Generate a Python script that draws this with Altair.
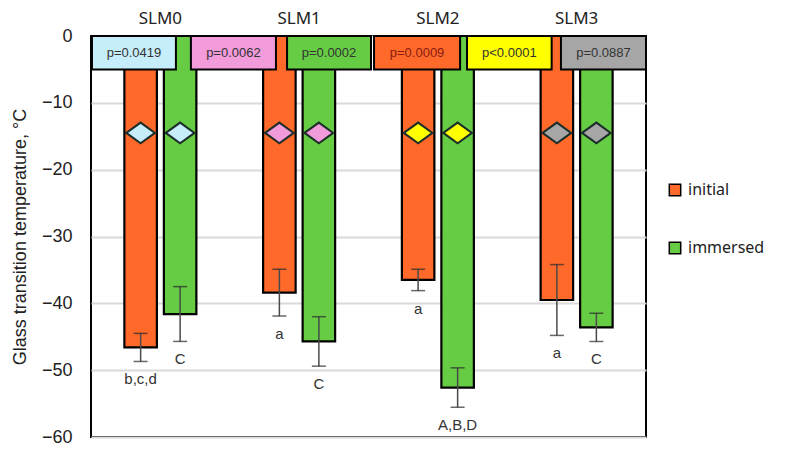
import altair as alt
import pandas as pd

# Glass transition temperature per sample, initial vs immersed
groups = ["SLM0", "SLM1", "SLM2", "SLM3"]
conditions = ["initial", "immersed"]
initial_mean = [-46.6, -38.4, -36.5, -39.5]
initial_sd = [2.1, 3.5, 1.6, 5.3]
immersed_mean = [-41.6, -45.7, -52.6, -43.6]
immersed_sd = [4.1, 3.7, 2.95, 2.1]
initial_letters = ["b,c,d", "a", "a", "a"]
immersed_letters = ["C", "C", "A,B,D", "C"]

# Group marker (diamond) colour and level
marker_colors = ["#C6EEFA", "#F29BDB", "#FFFF00", "#A6A6A6"]
marker_level = -14.5

# Pairwise p-value boxes along the top (span in group units)
p_labels = ["p=0.0419", "p=0.0062", "p=0.0002", "p=0.0009", "p<0.0001", "p=0.0887"]
p_fill = ["#C6EEFA", "#F29BDB", "#66CC44", "#FF6A2A", "#FFFF00", "#A6A6A6"]
p_text = ["#333333", "#333333", "#333333", "#8B1A10", "#333333", "#333333"]
p_start = [0.007, 0.72, 1.413, 2.04, 2.71, 3.387]
p_end = [0.612, 1.333, 2.018, 2.66, 3.32, 4.0]
p_top, p_bottom = 0, -5

bar_colors = ["#FF6A2A", "#66CC44"]

rows = []
for i, g in enumerate(groups):
    rows.append(dict(group=g, condition="initial", mean=initial_mean[i], sd=initial_sd[i],
                     letter=initial_letters[i], marker=marker_colors[i], level=marker_level))
    rows.append(dict(group=g, condition="immersed", mean=immersed_mean[i], sd=immersed_sd[i],
                     letter=immersed_letters[i], marker=marker_colors[i], level=marker_level))
df = pd.DataFrame(rows)

boxes = pd.DataFrame(dict(label=p_labels, fill=p_fill, tcolor=p_text,
                          start=p_start, end=p_end, top=p_top, bottom=p_bottom))

y_scale = alt.Scale(domain=[-60, 0], nice=False)
x_enc = alt.X("group:N", sort=groups,
              scale=alt.Scale(paddingInner=0, paddingOuter=0),
              axis=alt.Axis(orient="top", title=None, domain=False, ticks=False,
                            labelAngle=0, labelFontSize=17, labelFont="Noto Sans",
                            labelColor="#222222", labelPadding=9))
xo_enc = alt.XOffset("condition:N", sort=conditions,
                     scale=alt.Scale(paddingInner=0.177, paddingOuter=0.845))

base = alt.Chart(df).encode(x=x_enc, xOffset=xo_enc)

bars = base.mark_bar(stroke="black", strokeWidth=2.2).encode(
    y=alt.Y("mean:Q", scale=y_scale,
            axis=alt.Axis(values=[0, -10, -20, -30, -40, -50, -60], domain=False, ticks=False,
                          grid=True, gridColor="#d9d9d9", gridWidth=2,
                          labelFontSize=18, labelFont="Liberation Sans", labelColor="#222222",
                          labelPadding=19, title="Glass transition temperature, °C",
                          titleFontSize=18, titleFont="Liberation Sans", titleFontWeight="normal",
                          titleColor="#222222", titlePadding=12)),
    y2=alt.datum(0),
    color=alt.Color("condition:N",
                    scale=alt.Scale(domain=conditions, range=bar_colors),
                    legend=alt.Legend(title=None, orient="none", legendX=576, legendY=146,
                                      symbolType="square", symbolSize=130,
                                      symbolStrokeColor="black", symbolStrokeWidth=1.5,
                                      labelFontSize=16, labelFont="Noto Sans", labelColor="#222222",
                                      rowPadding=40, padding=0, labelOffset=5)),
)

whiskers = base.transform_calculate(
    lo="datum.mean - datum.sd", hi="datum.mean + datum.sd"
).mark_rule(color="#4a4a4a", strokeWidth=1.5).encode(
    y=alt.Y("lo:Q", scale=y_scale), y2="hi:Q")

caps_lo = base.transform_calculate(lo="datum.mean - datum.sd").mark_tick(
    color="#2a2a2a", thickness=1.5, size=14, orient="horizontal").encode(
    y=alt.Y("lo:Q", scale=y_scale))
caps_hi = base.transform_calculate(hi="datum.mean + datum.sd").mark_tick(
    color="#2a2a2a", thickness=1.5, size=14, orient="horizontal").encode(
    y=alt.Y("hi:Q", scale=y_scale))

diamonds = base.mark_point(
    shape="M-1,0L0,-0.72L1,0L0,0.72Z", size=820, filled=True,
    stroke="#1c2e2a", strokeWidth=2, opacity=1).encode(
    y=alt.Y("level:Q", scale=y_scale),
    fill=alt.Fill("marker:N", scale=None))

letters = base.transform_calculate(lo="datum.mean - datum.sd").mark_text(
    baseline="top", dy=11, fontSize=15, font="Liberation Sans", color="#333333").encode(
    y=alt.Y("lo:Q", scale=y_scale), text="letter:N")

bar_layer = alt.layer(bars, whiskers, caps_lo, caps_hi, diamonds, letters)

box_x = alt.Scale(domain=[0, 4], nice=False, zero=False)
box_base = alt.Chart(boxes)
box_rects = box_base.mark_rect(stroke="black", strokeWidth=2).encode(
    x=alt.X("start:Q", scale=box_x, axis=None), x2="end:Q",
    y=alt.Y("top:Q", scale=y_scale), y2="bottom:Q",
    fill=alt.Fill("fill:N", scale=None))
box_text = box_base.transform_calculate(
    mid="(datum.start + datum.end) / 2", ymid="(datum.top + datum.bottom) / 2"
).mark_text(fontSize=13, font="Liberation Sans").encode(
    x=alt.X("mid:Q", scale=box_x, axis=None),
    y=alt.Y("ymid:Q", scale=y_scale),
    text="label:N",
    color=alt.Color("tcolor:N", scale=None))
box_layer = alt.layer(box_rects, box_text)

chart = alt.layer(bar_layer, box_layer).resolve_scale(x="independent").properties(
    width=555, height=401,
    autosize=alt.AutoSizeParams(type="none"),
    padding={"left": 91, "top": 36, "right": 144, "bottom": 20},
    background="white",
).configure_view(stroke="black", strokeWidth=2)

chart.save("out.html", embed_options={"renderer": "svg", "actions": False})
